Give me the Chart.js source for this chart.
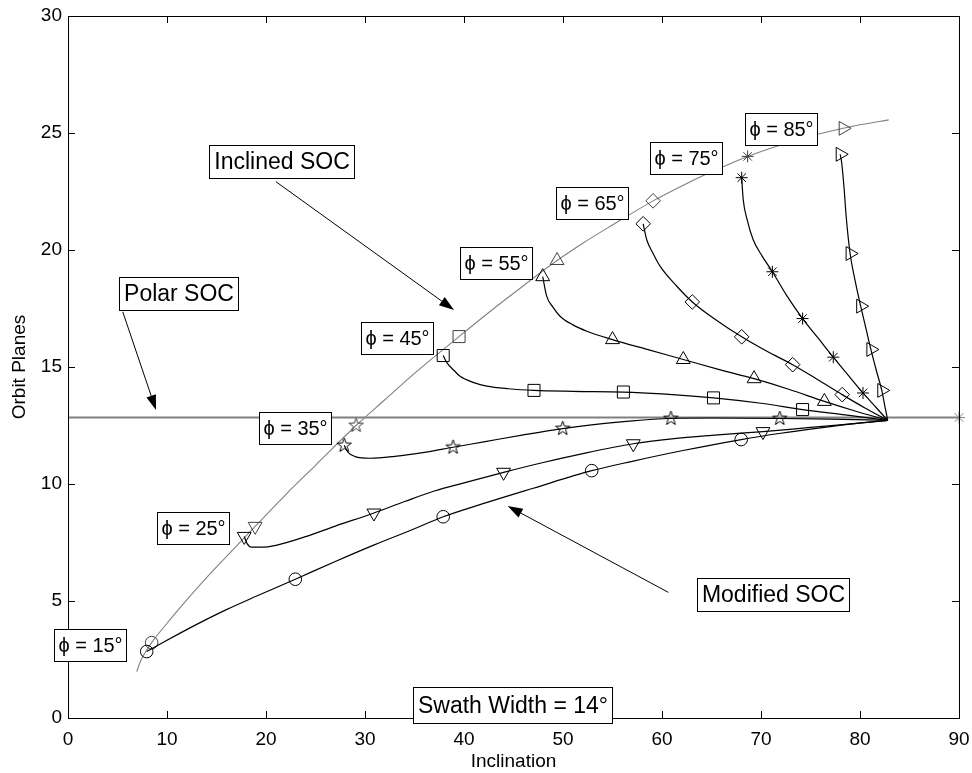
<!DOCTYPE html>
<html>
<head>
<meta charset="utf-8">
<script src="https://cdn.jsdelivr.net/npm/chart.js@4.4.1/dist/chart.umd.min.js"></script>
<style>
html,body{margin:0;padding:0;background:#fff;}
canvas{display:block;}
</style>
</head>
<body>
<canvas id="c" width="972" height="773"></canvas>
<script>
// ---------- data ----------
const X_TICKS = [0,10,20,30,40,50,60,70,80,90];
const Y_TICKS = [0,5,10,15,20,25,30];

const polarX = [0, 90];
const polarY = [12.84, 12.84];

const inclinedX = [6.94,7.3,7.8,8.45,10,12,14,16,18.9,22,25,29.1,32,35,39.5,42,45,49.4,52,55,59.1,62,65,68.65,72,75,78.3,80,82.9];
const inclinedY = [1.98,2.4,2.8,3.22,4.05,5.05,6.0,6.9,8.19,9.55,10.8,12.5,13.6,14.73,16.3,17.16,18.15,19.55,20.29,21.07,22.1,22.74,23.34,24.0,24.49,24.86,25.2,25.35,25.56];
const inclinedMarkX = [8.45,18.9,29.1,39.5,49.4,59.1,68.65,78.3];
const inclinedMarkY = [3.22,8.19,12.5,16.3,19.55,22.1,24.0,25.2];

const phi15X = [7.95,10,13,16,19,22.96,27,31,34.5,37.9,42,47,52.9,57,62,68,72,76,79.5,82.8];
const phi15Y = [2.84,3.32,4.0,4.63,5.2,5.93,6.69,7.41,8.0,8.6,9.17,9.82,10.57,10.97,11.42,11.9,12.17,12.4,12.58,12.72];
const phi15M = [1,0,0,0,0,1,0,0,0,1,0,0,1,0,0,1,0,0,0,0];

const phi25X = [17.8,18.1,18.5,19.5,21,24,27,30.9,34,37,40,44.0,48,52,57.1,61,65,70.2,74,78,82.8];
const phi25Y = [7.76,7.45,7.3,7.3,7.38,7.75,8.2,8.76,9.25,9.7,10.05,10.5,10.92,11.3,11.72,11.93,12.08,12.24,12.38,12.53,12.72];
const phi25M = [1,0,0,0,0,0,0,1,0,0,0,1,0,0,1,0,0,1,0,0,0];

const phi35X = [27.9,28.3,29,30.5,33,36,38.9,42,46,49.97,54,57,60.9,65,71.9,77,82.8];
const phi35Y = [11.65,11.35,11.17,11.1,11.18,11.35,11.57,11.8,12.1,12.37,12.58,12.7,12.8,12.82,12.8,12.77,12.72];
const phi35M = [1,0,0,0,0,0,1,0,0,1,0,0,1,0,1,0,0];

const phi45X = [37.9,38.25,39.0,39.6,41,42.3,44.5,47.07,51,56.1,60,65.2,70,74.2,78.5,82.8];
const phi45Y = [15.49,15.2,14.85,14.6,14.33,14.18,14.07,14.0,13.96,13.93,13.85,13.68,13.45,13.18,12.95,12.72];
const phi45M = [1,0,0,0,0,0,0,1,0,1,0,1,0,1,0,0];

const phi55X = [47.95,48.35,49.0,49.7,51,52.4,55.0,58.5,62.15,65.7,69.3,72.8,76.4,79.5,82.8];
const phi55Y = [18.86,18.03,17.55,17.17,16.8,16.53,16.17,15.75,15.32,14.9,14.5,14.05,13.53,13.12,12.72];
const phi55M = [1,0,0,0,0,0,1,0,1,0,1,0,1,0,0];

const phi65X = [58.1,58.45,59.1,59.8,61.5,63.06,65.5,68.05,70.6,73.2,75.7,78.2,80.5,82.8];
const phi65Y = [21.12,20.45,19.85,19.31,18.45,17.78,17.0,16.29,15.67,15.1,14.47,13.82,13.25,12.72];
const phi65M = [1,0,0,0,0,1,0,1,0,1,0,1,0,0];

const phi75X = [68.05,68.2,68.6,69.2,70.1,71.15,72.6,74.2,75.8,77.3,78.8,80.3,81.6,82.8];
const phi75Y = [23.09,22.17,21.3,20.45,19.75,19.07,18.05,17.07,16.22,15.42,14.65,13.89,13.28,12.72];
const phi75M = [1,0,0,0,0,1,0,1,0,1,0,1,0,0];

const phi85X = [78.0,78.15,78.4,78.6,79.0,79.5,80.07,80.6,81.1,81.65,82.2,82.5,82.8];
const phi85Y = [24.09,23.73,22.6,21.45,19.85,18.7,17.6,16.65,15.75,14.85,14.0,13.35,12.72];
const phi85M = [1,0,0,0,1,0,1,0,1,0,1,0,0];

const phiLabels = ['ϕ = 15°','ϕ = 25°','ϕ = 35°','ϕ = 45°','ϕ = 55°','ϕ = 65°','ϕ = 75°','ϕ = 85°'];
const phiLabelX = [2.22,12.63,22.96,33.25,43.21,52.9,62.46,72.0];
const phiLabelY = [3.11,8.1,12.38,16.23,19.44,22.0,23.92,25.15];

const noteText = ['Inclined SOC','Polar SOC','Modified SOC','Swath Width = 14°'];
const noteX = [21.58,11.19,71.24,44.88];
const noteY = [23.77,18.13,5.26,0.54];

const arrowFromX = [21.0,5.53,60.64];
const arrowFromY = [22.92,17.36,5.37];
const arrowToX = [38.99,8.89,44.41];
const arrowToY = [17.44,13.16,9.06];

// ---------- styles ----------
const FONT = '"Liberation Sans", Arial, Helvetica, sans-serif';
const GRAY = '#808080';
const MARK_GRAY = '#404040';

function makePentagram(r, color) {
  const s = Math.ceil(r * 2 + 4);
  const c = document.createElement('canvas');
  c.width = s; c.height = s;
  const g = c.getContext('2d');
  g.strokeStyle = color; g.lineWidth = 1;
  g.beginPath();
  for (let i = 0; i < 10; i++) {
    const a = -Math.PI / 2 + i * Math.PI / 5;
    const rr = (i % 2) ? r * 0.4 : r;
    const px = s / 2 + rr * Math.cos(a), py = s / 2 + rr * Math.sin(a);
    if (i === 0) g.moveTo(px, py); else g.lineTo(px, py);
  }
  g.closePath(); g.stroke();
  return c;
}
const pentaBlack = makePentagram(7.5, '#000');
const pentaGray = makePentagram(7.5, MARK_GRAY);

const phiStyle = ['circle','triangle','penta','rect','triangle','rectRot','star','triangle'];
const phiRot = [0,180,0,0,0,0,0,90];
const phiRadius = [6.3,8,7,8.5,8,7.3,6,8];

function zip(xs, ys) { return xs.map((x, i) => ({x: x, y: ys[i]})); }

const curves = [
  [phi15X, phi15Y, phi15M], [phi25X, phi25Y, phi25M], [phi35X, phi35Y, phi35M],
  [phi45X, phi45Y, phi45M], [phi55X, phi55Y, phi55M], [phi65X, phi65Y, phi65M],
  [phi75X, phi75Y, phi75M], [phi85X, phi85Y, phi85M]
];

const datasets = [];
curves.forEach((cv, k) => {
  const flags = cv[2];
  const st = phiStyle[k] === 'penta' ? pentaBlack : phiStyle[k];
  datasets.push({
    data: zip(cv[0], cv[1]),
    showLine: true,
    borderColor: '#000',
    borderWidth: 1.2,
    cubicInterpolationMode: 'monotone',
    pointStyle: st,
    rotation: phiRot[k],
    pointRadius: ctx => flags[ctx.dataIndex] ? phiRadius[k] : 0,
    pointBorderColor: '#000',
    pointBorderWidth: 1,
    pointBackgroundColor: 'rgba(0,0,0,0)',
    clip: false
  });
});

// markers on the inclined SOC curve
datasets.push({
  data: zip(inclinedMarkX, inclinedMarkY),
  showLine: false,
  pointStyle: ctx => phiStyle[ctx.dataIndex] === 'penta' ? pentaGray : phiStyle[ctx.dataIndex],
  rotation: ctx => phiRot[ctx.dataIndex],
  pointRadius: ctx => phiRadius[ctx.dataIndex],
  pointBorderColor: MARK_GRAY,
  pointBorderWidth: 1,
  pointBackgroundColor: 'rgba(0,0,0,0)',
  clip: false
});

// inclined SOC curve
datasets.push({
  data: zip(inclinedX, inclinedY),
  showLine: true,
  borderColor: GRAY,
  borderWidth: 1.1,
  cubicInterpolationMode: 'monotone',
  pointRadius: 0
});

// polar SOC line
datasets.push({
  data: zip(polarX, polarY),
  showLine: true,
  borderColor: GRAY,
  borderWidth: 2,
  pointStyle: 'star',
  pointRadius: ctx => ctx.dataIndex === 1 ? 6 : 0,
  pointBorderColor: GRAY,
  pointBorderWidth: 1,
  clip: false
});

// ---------- plugin: frame, inward ticks, annotations ----------
const framePlugin = {
  id: 'frameAndNotes',
  afterDraw(chart) {
    const ctx = chart.ctx;
    const a = chart.chartArea;
    const xs = chart.scales.x, ys = chart.scales.y;
    ctx.save();
    // frame
    ctx.strokeStyle = '#000';
    ctx.lineWidth = 1;
    ctx.strokeRect(Math.round(a.left) + 0.5, Math.round(a.top) + 0.5,
                   Math.round(a.right - a.left), Math.round(a.bottom - a.top));
    // inward ticks
    const TL = 7;
    ctx.beginPath();
    X_TICKS.forEach(v => {
      const px = Math.round(xs.getPixelForValue(v)) + 0.5;
      ctx.moveTo(px, a.bottom); ctx.lineTo(px, a.bottom - TL);
      ctx.moveTo(px, a.top); ctx.lineTo(px, a.top + TL);
    });
    Y_TICKS.forEach(v => {
      const py = Math.round(ys.getPixelForValue(v)) + 0.5;
      ctx.moveTo(a.left, py); ctx.lineTo(a.left + TL, py);
      ctx.moveTo(a.right, py); ctx.lineTo(a.right - TL, py);
    });
    ctx.stroke();

    // arrows
    for (let i = 0; i < arrowFromX.length; i++) {
      const x1 = xs.getPixelForValue(arrowFromX[i]), y1 = ys.getPixelForValue(arrowFromY[i]);
      const x2 = xs.getPixelForValue(arrowToX[i]), y2 = ys.getPixelForValue(arrowToY[i]);
      const ang = Math.atan2(y2 - y1, x2 - x1);
      const L = 15, W = 5;
      const bx = x2 - L * Math.cos(ang), by = y2 - L * Math.sin(ang);
      ctx.beginPath();
      ctx.moveTo(x1, y1); ctx.lineTo(bx, by);
      ctx.strokeStyle = '#000'; ctx.lineWidth = 1; ctx.stroke();
      ctx.beginPath();
      ctx.moveTo(x2, y2);
      ctx.lineTo(bx + W * Math.sin(ang), by - W * Math.cos(ang));
      ctx.lineTo(bx - W * Math.sin(ang), by + W * Math.cos(ang));
      ctx.closePath();
      ctx.fillStyle = '#000'; ctx.fill();
    }

    // text boxes
    function box(text, cx, cy, size, padX, h) {
      ctx.font = size + 'px ' + FONT;
      const w = ctx.measureText(text).width + 2 * padX;
      const l = Math.round(cx - w / 2) + 0.5, t = Math.round(cy - h / 2) + 0.5;
      ctx.fillStyle = '#fff';
      ctx.fillRect(l, t, Math.round(w), h);
      ctx.strokeStyle = '#000'; ctx.lineWidth = 1;
      ctx.strokeRect(l, t, Math.round(w), h);
      ctx.fillStyle = '#000';
      ctx.textAlign = 'center'; ctx.textBaseline = 'middle';
      ctx.fillText(text, l + Math.round(w) / 2, t + h / 2 + 1);
    }
    for (let i = 0; i < noteText.length; i++) {
      box(noteText[i], xs.getPixelForValue(noteX[i]), ys.getPixelForValue(noteY[i]), 23, 4.5, i === 3 ? 36 : 33);
    }
    for (let i = 0; i < phiLabels.length; i++) {
      box(phiLabels[i], xs.getPixelForValue(phiLabelX[i]), ys.getPixelForValue(phiLabelY[i]), 20, 4, 32);
    }
    ctx.restore();
  }
};

new Chart(document.getElementById('c'), {
  type: 'scatter',
  data: { datasets: datasets },
  options: {
    responsive: false,
    animation: false,
    devicePixelRatio: 1,
    layout: { padding: { left: 0, top: 16, right: 13, bottom: 0 } },
    plugins: { legend: { display: false }, tooltip: { enabled: false } },
    scales: {
      x: {
        type: 'linear', min: 0, max: 90,
        afterBuildTicks: s => { s.ticks = X_TICKS.map(v => ({ value: v })); },
        afterFit: s => { s.height = 55; s.paddingLeft = 0; s.paddingRight = 0; },
        grid: { display: false, drawTicks: false },
        border: { display: false },
        ticks: { color: '#000', font: { family: FONT, size: 19 }, padding: 10, maxRotation: 0, autoSkip: false },
        title: { display: true, text: 'Inclination', color: '#000', font: { family: FONT, size: 19 }, padding: { top: 0, bottom: 0 } }
      },
      y: {
        type: 'linear', min: 0, max: 30,
        afterBuildTicks: s => { s.ticks = Y_TICKS.map(v => ({ value: v })); },
        afterFit: s => { s.width = 68; s.paddingTop = 0; s.paddingBottom = 0; },
        grid: { display: false, drawTicks: false },
        border: { display: false },
        ticks: { color: '#000', font: { family: FONT, size: 19 }, padding: 6, autoSkip: false },
        title: { display: true, text: 'Orbit Planes', color: '#000', font: { family: FONT, size: 19 }, padding: { top: 8, bottom: 0 } }
      }
    }
  },
  plugins: [framePlugin]
});
</script>
</body>
</html>
